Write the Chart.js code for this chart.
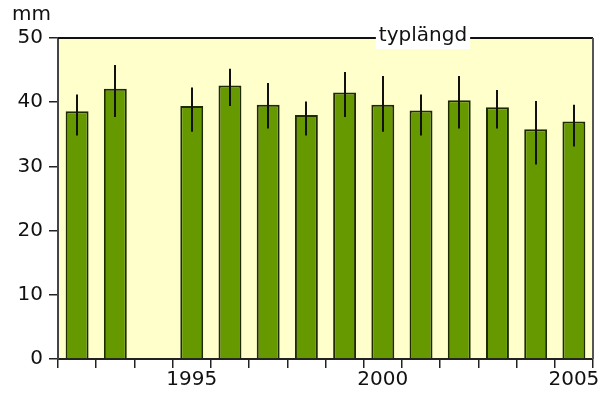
<!DOCTYPE html>
<html>
<head>
<meta charset="utf-8">
<script src="https://cdn.jsdelivr.net/npm/chart.js@4/dist/chart.umd.min.js"></script>
<style>
  html, body { margin: 0; padding: 0; background: #fff; }
  #wrap { width: 609px; height: 396px; }
</style>
</head>
<body>
<div id="wrap"><canvas id="c" width="609" height="396"></canvas></div>
<script>
// Annual mean length (mm) with confidence interval limits
const years = ['1992','1993','1994','1995','1996','1997','1998','1999','2000','2001','2002','2003','2004','2005'];
const meanLength = [38.6, 42.1, null, 39.4, 42.6, 39.6, 38.0, 41.5, 39.6, 38.7, 40.3, 39.2, 35.8, 37.0];
const lowerLimit = [34.8, 37.7, null, 35.4, 39.4, 35.9, 34.8, 37.7, 35.4, 34.8, 35.9, 35.9, 30.3, 33.1];
const upperLimit = [41.2, 45.8, null, 42.3, 45.2, 43.0, 40.1, 44.7, 44.1, 41.2, 44.1, 41.9, 40.2, 39.6];
const labelledYears = ['1995', '2000', '2005'];
const yTicks = [0, 10, 20, 30, 40, 50];
const unitLabel = 'mm';
const seriesTitle = 'typlängd';

const FONT = '"DejaVu Sans", "Liberation Sans", Arial, sans-serif';
const FONT_SIZE = 20;

// Pale plot background plus frame on top and right
const frame = {
  id: 'frame',
  beforeDraw(chart) {
    const { ctx, chartArea: a } = chart;
    ctx.save();
    ctx.fillStyle = '#ffffcc';
    ctx.fillRect(a.left, a.top, a.right - a.left, a.bottom - a.top);
    ctx.restore();
  },
  afterDraw(chart) {
    const { ctx, chartArea: a } = chart;
    ctx.save();
    ctx.lineWidth = 2;
    ctx.strokeStyle = '#111';
    ctx.beginPath();
    ctx.moveTo(a.left, a.top);
    ctx.lineTo(a.right, a.top);
    ctx.stroke();
    ctx.strokeStyle = '#555';
    ctx.beginPath();
    ctx.moveTo(a.right, a.top);
    ctx.lineTo(a.right, a.bottom);
    ctx.stroke();

    // unit label above the value axis
    ctx.fillStyle = '#111';
    ctx.font = FONT_SIZE + 'px ' + FONT;
    ctx.textAlign = 'left';
    ctx.textBaseline = 'middle';
    ctx.fillText(unitLabel, 12, 15);

    // series title on the top edge, on a white box
    const w = ctx.measureText(seriesTitle).width;
    const cx = 423, cy = 36;
    ctx.fillStyle = '#fff';
    ctx.fillRect(cx - w / 2 - 3, 25, w + 6, 24);
    ctx.fillStyle = '#111';
    ctx.textAlign = 'center';
    ctx.fillText(seriesTitle, cx, cy);
    ctx.restore();
  }
};

// Vertical whiskers from lower to upper limit
const whiskers = {
  id: 'whiskers',
  afterDatasetsDraw(chart) {
    const { ctx, scales: { x, y } } = chart;
    ctx.save();
    ctx.strokeStyle = '#111';
    ctx.lineWidth = 2;
    years.forEach((yr, i) => {
      if (lowerLimit[i] == null || upperLimit[i] == null) return;
      const px = Math.round(x.getPixelForValue(i));
      ctx.beginPath();
      ctx.moveTo(px, y.getPixelForValue(lowerLimit[i]));
      ctx.lineTo(px, y.getPixelForValue(upperLimit[i]));
      ctx.stroke();
    });
    ctx.restore();
  }
};

new Chart(document.getElementById('c'), {
  type: 'bar',
  data: {
    labels: years,
    datasets: [{
      data: meanLength,
      backgroundColor: '#669900',
      borderColor: '#1e2b00',
      borderWidth: 2,
      barPercentage: 0.6,
      categoryPercentage: 1.0
    }]
  },
  options: {
    responsive: false,
    animation: false,
    layout: { padding: { top: 38, right: 16, left: 0, bottom: 0 } },
    plugins: {
      legend: { display: false },
      tooltip: { enabled: false },
      title: { display: false }
    },
    scales: {
      x: {
        offset: true,
        afterFit(s) { s.height = 37; },
        grid: {
          offset: true,
          drawOnChartArea: false,
          drawTicks: true,
          tickLength: 9,
          color: '#222',
          lineWidth: 1.5
        },
        border: { display: true, color: '#222', width: 2 },
        ticks: {
          autoSkip: false,
          maxRotation: 0,
          color: '#111',
          padding: 0,
          font: { family: FONT, size: FONT_SIZE },
          callback(v, i) { return labelledYears.includes(years[i]) ? years[i] : ''; }
        }
      },
      y: {
        min: yTicks[0],
        max: yTicks[yTicks.length - 1],
        afterFit(s) { s.width = 58; },
        afterBuildTicks(s) { s.ticks = yTicks.map(v => ({ value: v })); },
        grid: {
          drawOnChartArea: false,
          drawTicks: true,
          tickLength: 9,
          color: '#222',
          lineWidth: 1.5
        },
        border: { display: true, color: '#444', width: 2 },
        ticks: {
          color: '#111',
          padding: 6,
          font: { family: FONT, size: FONT_SIZE }
        }
      }
    }
  },
  plugins: [frame, whiskers]
});
</script>
</body>
</html>
